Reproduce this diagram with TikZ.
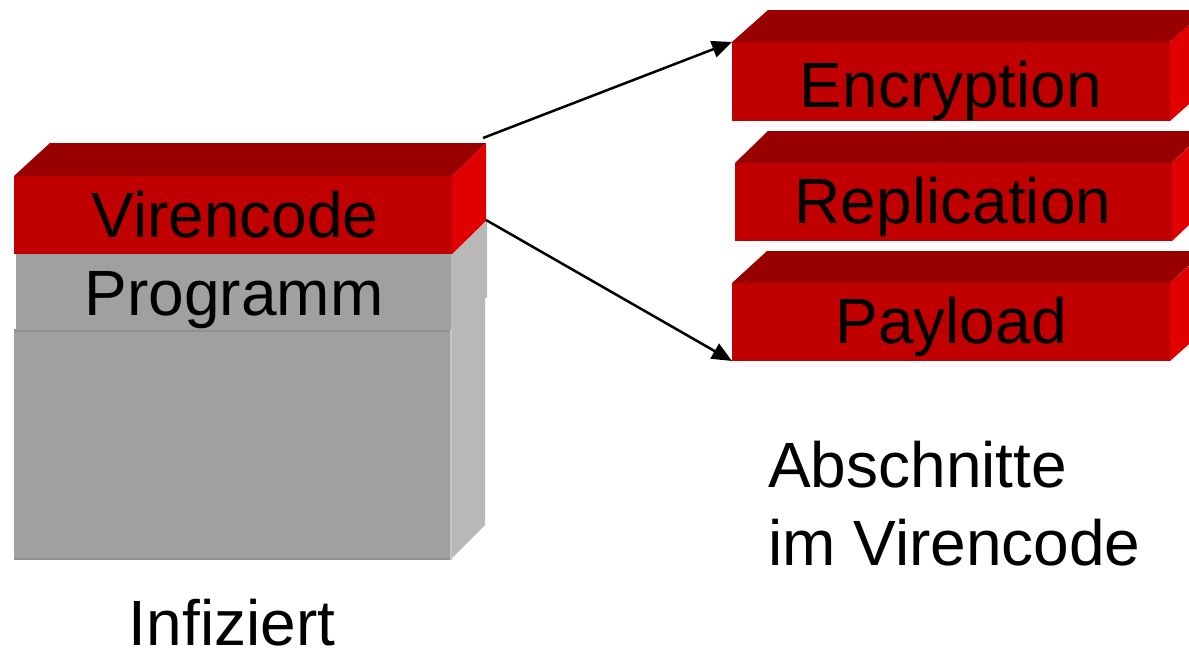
\documentclass[tikz,border=0pt]{standalone}
\usepackage{fontspec}
\setmainfont{Liberation Sans}
\usetikzlibrary{arrows.meta}
\definecolor{redfront}{HTML}{C00000}
\definecolor{redtop}{HTML}{990000}
\definecolor{redside}{HTML}{E00000}
\definecolor{grayfront}{HTML}{A0A0A0}
\definecolor{grayside}{HTML}{B8B8B8}
\definecolor{grayline}{HTML}{909090}
\begin{document}
\begin{tikzpicture}[x=1pt,y=-1pt,
  face/.style={draw=none, inner sep=0pt, outer sep=0pt, rectangle, anchor=north west},
  lbl/.style={anchor=base, inner sep=0pt, font=\fontsize{64}{76}\selectfont},
  lblw/.style={anchor=base west, inner sep=0pt, font=\fontsize{64}{76}\selectfont},
  conn/.style={line width=2.5pt, -{Triangle[length=20pt,width=17pt]}}]
\useasboundingbox (0,0) rectangle (1189,653);
\clip (0,0) rectangle (1189,653);

% ---- left stack: lower program part
\node[face, fill=grayfront, minimum width=436pt, minimum height=230pt] (low) at (14,330) {};
\fill[grayside] (low.north east) -- ++(35,-33) -- ++(0,228) -- (low.south east) -- cycle;
\draw[grayline, line width=3pt] (low.north west) -- (low.north east);
\draw[grayline, line width=2pt] ([yshift=1pt]low.south west) -- ([yshift=1pt]low.south east);
\draw[color=grayside!80!white, line width=2pt] ([xshift=1pt]low.north east) -- ([xshift=1pt]low.south east);

% ---- Programm part
\node[face, fill=grayfront, minimum width=435pt, minimum height=76pt] (prog) at (16,254) {};
\fill[grayside] (prog.north east) -- ++(36,-33) -- ++(0,76) -- (prog.south east) -- cycle;

% ---- Virencode part
\node[face, fill=redfront, minimum width=438pt, minimum height=78pt] (vir) at (14,176) {};
\fill[redtop] (vir.north west) -- ++(36,-33) -- ++(436,0) -- (vir.north east) -- cycle;
\fill[redside] (vir.north east) -- ++(34,-33) -- ++(0,78) -- (vir.south east) -- cycle;

\node[lbl] (tvir) at (235,237) {Virencode};
\node[lbl] (tprog) at (234,315) {Programm};

% ---- right boxes
\node[face, fill=redfront, minimum width=438pt, minimum height=79pt] (enc) at (732,42) {};
\fill[redtop] (enc.north west) -- ++(36,-32) -- ++(438,0) -- (enc.north east) -- cycle;
\fill[redside] (enc.north east) -- ++(36,-32) -- ++(0,79) -- (enc.south east) -- cycle;
\node[lbl] (tenc) at (951,107) {Encryption};

\node[face, fill=redfront, minimum width=437pt, minimum height=78pt] (rep) at (735,163) {};
\fill[redtop] (rep.north west) -- ++(33,-32) -- ++(437,0) -- (rep.north east) -- cycle;
\fill[redside] (rep.north east) -- ++(34,-32) -- ++(0,78) -- (rep.south east) -- cycle;
\node[lbl] (trep) at (953,223) {Replication};

\node[face, fill=redfront, minimum width=438pt, minimum height=78pt] (pay) at (732,283) {};
\fill[redtop] (pay.north west) -- ++(35,-32) -- ++(438,0) -- (pay.north east) -- cycle;
\fill[redside] (pay.north east) -- ++(36,-32) -- ++(0,78) -- (pay.south east) -- cycle;
\node[lbl] (tpay) at (951,343) {Payload};

% ---- connectors
\coordinate (s1) at (483,138);
\coordinate (s2) at (486,220);
\draw[conn] (s1) -- (enc.north west);
\draw[conn] (s2) -- (pay.south west);

% ---- captions
\node[lblw] (abs1) at (768,487) {Abschnitte};
\node[lblw] (abs2) at (768,565) {im Virencode};
\node[lbl, text depth=0pt] (inf) at (232,645) {Infiziert};
\end{tikzpicture}
\end{document}
